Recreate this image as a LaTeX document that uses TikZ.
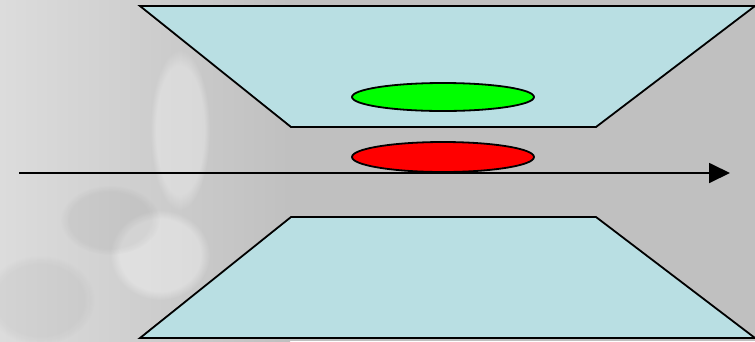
\documentclass[tikz,border=0pt]{standalone}
\usetikzlibrary{shapes.geometric,arrows.meta,fadings}
\definecolor{bggray}{HTML}{C0C0C0}
\definecolor{bglight}{HTML}{DCDCDC}
\definecolor{trapfill}{HTML}{B9DFE3}
\begin{document}
\begin{tikzpicture}[x=1pt,y=-1pt,
  trap/.style={fill=trapfill,draw=black,line width=1.8pt,line join=miter},
  blob/.style={ellipse,draw=black,line width=1.8pt,minimum width=182pt,minimum height=28pt,inner sep=0pt},
  mist/.style={path fading=circle with fuzzy edge 20 percent}]
\useasboundingbox (0,0) rectangle (755,341);
\fill[bggray] (0,0) rectangle (755,341);
\shade[left color=bglight,right color=bggray] (0,0) rectangle (290,341);
\fill[white,opacity=0.3,mist] (180,130) ellipse (30 and 80);
\fill[white,opacity=0.35,mist] (160,255) ellipse (50 and 45);
\fill[black,opacity=0.05,mist] (110,220) ellipse (50 and 35);
\fill[black,opacity=0.04,mist] (40,300) ellipse (55 and 45);
\draw[trap] (140,6) -- (755,6) -- (596,127) -- (291,127) -- cycle;
\draw[trap] (291,217) -- (596,217) -- (755,338) -- (140,338) -- cycle;
\node[blob,fill=green] (g) at (443,97) {};
\node[blob,fill=red,minimum height=30pt] (r) at (443,157) {};
\coordinate (s) at (19,173);
\coordinate (e) at (730,173);
\draw[line width=1.8pt,-{Triangle[length=21pt,width=20pt]}] (s) -- (e);
\end{tikzpicture}
\end{document}
